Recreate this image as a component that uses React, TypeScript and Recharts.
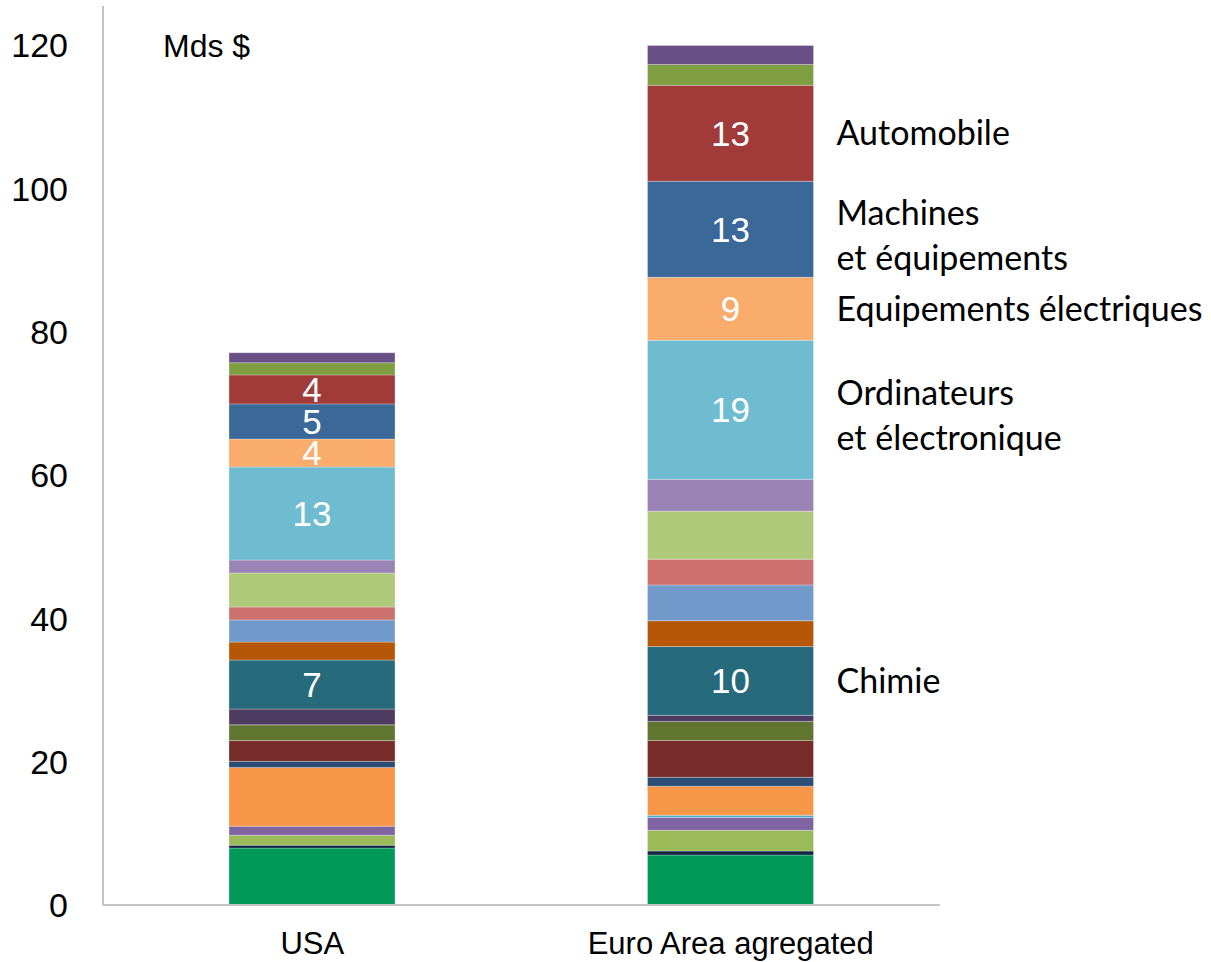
import React from 'react';
import { BarChart, Bar, XAxis, YAxis, LabelList } from 'recharts';

const categories = ['USA', 'Euro Area agregated'];

const seriesKeys = [
  's01', 's02', 's03', 's04', 's05', 's06', 's07', 's08', 's09', 's10',
  'chimie', 's12', 's13', 's14', 's15', 's16',
  'ordinateurs', 'equipElec', 'machines', 'automobile', 's21', 's22',
];

const seriesColors = [
  '#009958', '#0F2440', '#9BBB59', '#8064A2', '#4BACC6', '#F79646', '#2C4D75', '#772C2A', '#5F7530', '#4D3B62',
  '#276A7C', '#B65708', '#729ACA', '#CE7270', '#AFC97A', '#9A84B6',
  '#6FBCD1', '#F9AC6B', '#3A6899', '#A03B3A', '#7F9E41', '#684F86',
];

const usaValues = [
  7.95, 0.4, 1.4, 1.25, 0, 8.2, 0.85, 2.9, 2.2, 2.2,
  6.85, 2.5, 3.1, 1.8, 4.75, 1.8,
  13.0, 3.9, 4.9, 4.05, 1.7, 1.4,
];

const euroValues = [
  6.98, 0.55, 2.9, 1.8, 0.3, 4.05, 1.25, 5.15, 2.65, 0.85,
  9.6, 3.6, 5.0, 3.6, 6.7, 4.45,
  19.4, 8.8, 13.4, 13.4, 2.9, 2.65,
];

const yTicks = [0, 20, 40, 60, 80, 100, 120];

const labeledSeries = ['chimie', 'ordinateurs', 'equipElec', 'machines', 'automobile'];

const sectorNotes: Record<string, string[]> = {
  automobile: ['Automobile'],
  machines: ['Machines', 'et équipements'],
  equipElec: ['Equipements électriques'],
  ordinateurs: ['Ordinateurs', 'et électronique'],
  chimie: ['Chimie'],
};

const unitLabel = 'Mds $';

const data = categories.map((c, i) => {
  const row: Record<string, any> = { category: c };
  const vals = i === 0 ? usaValues : euroValues;
  seriesKeys.forEach((k, j) => {
    row[k] = vals[j];
  });
  return row;
});

const AXIS_FONT = '"Liberation Sans", Arial, sans-serif';
const NOTE_FONT = 'Lato, "Open Sans", sans-serif';

function makeNote(key: string) {
  return (props: any) => {
    const vb = props.viewBox || props;
    const x = Number(vb.x);
    const y = Number(vb.y);
    const w = Number(vb.width);
    const h = Number(vb.height);
    if (props.index !== 1) return null;
    const lines = sectorNotes[key] || [];
    const lh = 45;
    const cy = y + h / 2 + (lines.length > 1 ? 4 : -2);
    const startY = cy - ((lines.length - 1) * lh) / 2;
    return (
      <text
        x={x + w + 23}
        y={startY}
        fontFamily={NOTE_FONT}
        fontSize={34}
        fill="#000"
        dominantBaseline="central"
      >
        {lines.map((ln, i) => (
          <tspan key={i} x={x + w + 23} y={startY + i * lh} dominantBaseline="central">
            {ln}
          </tspan>
        ))}
      </text>
    );
  };
}

export default function App() {
  return (
    <div style={{ position: 'absolute', left: 0, top: 0, width: 1211, height: 962, background: '#fff' }}>
      <BarChart
        width={1211}
        height={962}
        data={data}
        margin={{ top: 6, right: 271, bottom: 0, left: 0 }}
        barSize={166}
      >
        <XAxis
          dataKey="category"
          height={57}
          tickLine={false}
          axisLine={{ stroke: '#C4C4C4', strokeWidth: 2 }}
          tickMargin={21}
          tick={{ fill: '#000', fontSize: 31, fontFamily: AXIS_FONT }}
          interval={0}
        />
        <YAxis
          width={103}
          domain={[0, 125.5]}
          ticks={yTicks}
          tickLine={false}
          axisLine={{ stroke: '#C4C4C4', strokeWidth: 2 }}
          tickMargin={29}
          tick={{ fill: '#000', fontSize: 34, fontFamily: AXIS_FONT }}
          allowDataOverflow
        />
        {seriesKeys.map((k, j) => (
          <Bar
            key={k}
            dataKey={k}
            stackId="a"
            fill={seriesColors[j]}
            stroke="rgba(255,255,255,0.35)"
            strokeWidth={0.8}
            isAnimationActive={false}
          >
            {labeledSeries.includes(k) && (
              <LabelList
                dataKey={k}
                position="center"
                fill="#fff"
                fontSize={35}
                fontFamily={AXIS_FONT}
                formatter={(v: any) => Math.round(Number(v))}
              />
            )}
            {labeledSeries.includes(k) && <LabelList dataKey={k} content={makeNote(k)} />}
          </Bar>
        ))}
      </BarChart>
      <div
        style={{
          position: 'absolute',
          left: 163,
          top: 28,
          fontFamily: AXIS_FONT,
          fontSize: 32,
          lineHeight: '36px',
          color: '#000',
        }}
      >
        {unitLabel}
      </div>
    </div>
  );
}
